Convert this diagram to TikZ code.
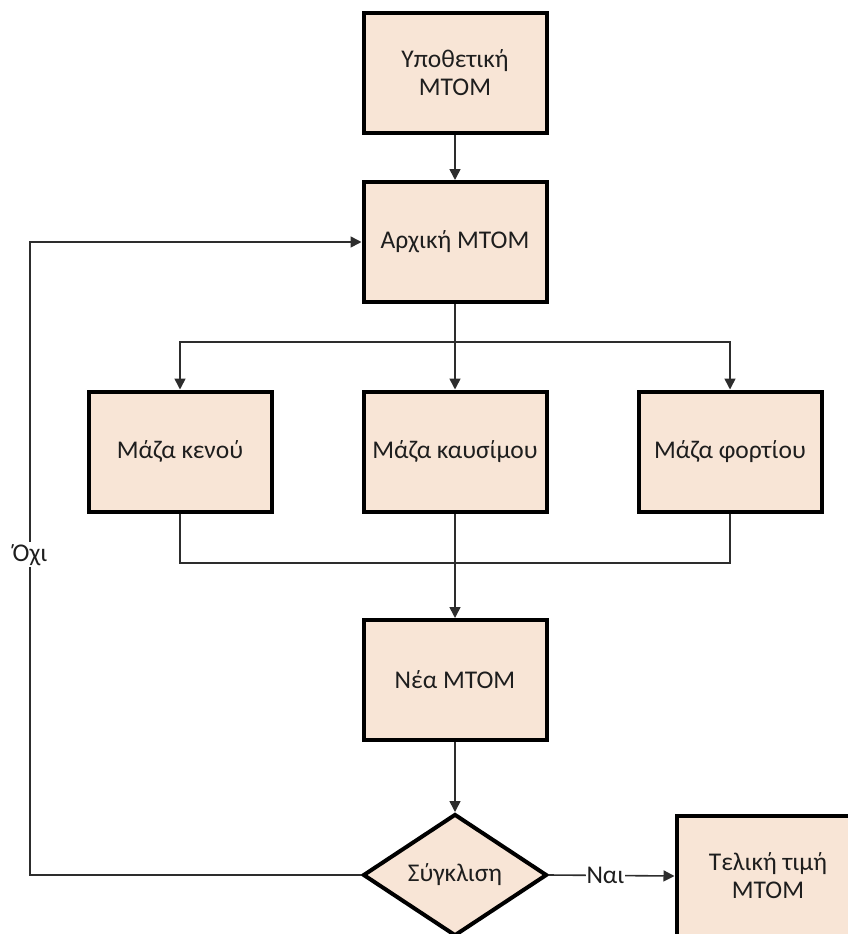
\documentclass[tikz,border=0pt]{standalone}
\usepackage{fontspec}
\setmainfont{Carlito}
\usetikzlibrary{arrows.meta,shapes.geometric}
\definecolor{boxfill}{RGB}{248,229,214}
\definecolor{txt}{RGB}{30,30,30}
\definecolor{wire}{RGB}{45,45,45}
\tikzset{
  procbox/.style={draw=black,line width=4pt,fill=boxfill,minimum width=183pt,minimum height=120pt,
    inner sep=0pt,align=center,text=txt,font=\fontsize{25.5}{28}\selectfont},
  decbox/.style={diamond,draw=black,line width=4pt,fill=boxfill,minimum width=184pt,minimum height=122pt,
    inner sep=0pt,align=center,text=txt,font=\fontsize{25.5}{28}\selectfont},
  wireline/.style={draw=wire,line width=1.6pt},
  arr/.style={wireline,-{Triangle[length=11pt,width=11pt]}},
  lbl/.style={fill=white,inner sep=2pt,text=txt,font=\fontsize{25.5}{28}\selectfont}
}
\begin{document}
\begin{tikzpicture}[x=1pt,y=-1pt]
\useasboundingbox (0,0) rectangle (848,934);
\clip (0,0) rectangle (848,934);
\node[procbox] (hyp) at (455,73) {Υποθετική\\ΜΤΟΜ};
\node[procbox] (arx) at (455,242) {Αρχική ΜΤΟΜ};
\node[procbox] (ken) at (180,451.5) {Μάζα κενού};
\node[procbox] (kau) at (455,451.5) {Μάζα καυσίμου};
\node[procbox] (for) at (730,451.5) {Μάζα φορτίου};
\node[procbox] (nea) at (455,680) {Νέα ΜΤΟΜ};
\node[decbox] (syg) at (455,875) {Σύγκλιση};
\node[procbox] (tel) at (768,876) {Τελική τιμή\\ΜΤΟΜ};
\coordinate (split) at (455,342);
\coordinate (merge) at (455,563);
\coordinate (lb) at (30,875);
\coordinate (lt) at (30,242);
\draw[arr] (hyp.south) -- (arx.north);
\draw[arr] (arx.south) -- (kau.north);
\draw[arr] (split) -| (ken.north);
\draw[arr] (split) -| (for.north);
\draw[wireline] (ken.south) |- (merge);
\draw[wireline] (for.south) |- (merge);
\draw[arr] (kau.south) -- (nea.north);
\draw[arr] (nea.south) -- (syg.north);
\draw[arr] (syg.east) -- node[lbl,pos=0.45,inner sep=1pt] (nai) {Ναι} (tel.west);
\draw[arr] (syg.west) -- (lb) -- node[lbl,pos=0.506] (oxi) {Όχι} (lt) -- (arx.west);
\end{tikzpicture}
\end{document}
